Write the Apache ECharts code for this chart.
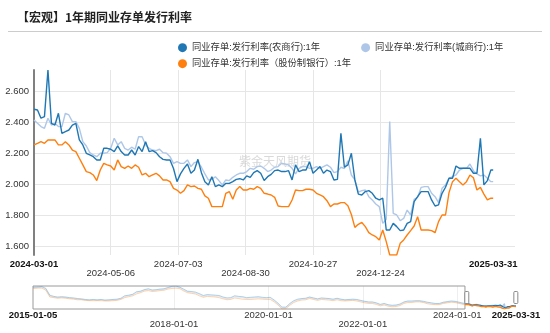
<!DOCTYPE html>
<html>
<head>
<meta charset="utf-8">
<script src="https://cdn.jsdelivr.net/npm/echarts@6/dist/echarts.min.js"></script>
<style>
  html, body { margin: 0; padding: 0; background: #fff; }
  #chart { width: 550px; height: 333px; }
</style>
</head>
<body>
<div id="chart"></div>
<script>
// ---- series names and colours ----
const seriesNames = [
  '同业存单:发行利率(农商行):1年',
  '同业存单:发行利率(城商行):1年',
  '同业存单:发行利率（股份制银行）:1年'
];
const seriesColors = ['#1f77b4', '#aec7e8', '#ff7f0e'];

// ---- monthly history, 2015-01 .. 2024-02 (%) ----
const histStart = '2015-01-05';
const ruralHist = [
  5.10, 5.15, 5.20, 4.90, 3.80, 3.60, 3.50, 3.55, 3.50, 3.40, 3.35, 3.25,
  3.20, 3.10, 3.05, 3.10, 3.05, 3.10, 3.00, 3.05, 3.10, 3.15, 3.30, 3.70,
  3.80, 3.95, 4.35, 4.45, 4.70, 4.85, 4.65, 4.70, 4.80, 4.85, 5.05, 5.25,
  5.30, 5.10, 4.80, 4.45, 4.40, 4.30, 4.05, 3.75, 3.90, 3.85, 3.80, 3.75,
  3.50, 3.35, 3.40, 3.70, 3.60, 3.55, 3.40, 3.45, 3.50, 3.55, 3.45, 3.40,
  3.45, 3.00, 2.50, 1.85, 1.85, 2.45, 2.90, 3.15, 3.25, 3.30, 3.50, 3.35,
  3.20, 3.35, 3.30, 3.25, 3.15, 3.30, 3.15, 3.05, 3.10, 3.15, 3.10, 2.95,
  2.80, 2.70, 2.70, 2.55, 2.30, 2.45, 2.25, 2.15, 2.20, 2.35, 2.70, 2.85,
  2.85, 2.90, 2.90, 2.80, 2.65, 2.55, 2.45, 2.45, 2.65, 2.75, 2.85, 2.80,
  2.65, 2.50
];
const cityHist = [
  5.00, 5.05, 5.10, 4.75, 3.65, 3.50, 3.40, 3.45, 3.40, 3.30, 3.25, 3.15,
  3.10, 3.00, 2.95, 3.00, 2.95, 3.00, 2.95, 2.95, 3.00, 3.05, 3.20, 3.55,
  3.70, 3.85, 4.20, 4.35, 4.60, 4.70, 4.55, 4.60, 4.70, 4.75, 4.95, 5.10,
  5.15, 5.00, 4.65, 4.35, 4.25, 4.15, 3.90, 3.60, 3.75, 3.70, 3.65, 3.60,
  3.35, 3.20, 3.25, 3.55, 3.45, 3.40, 3.25, 3.30, 3.35, 3.40, 3.30, 3.25,
  3.30, 2.85, 2.35, 1.70, 1.75, 2.30, 2.75, 3.00, 3.15, 3.20, 3.40, 3.25,
  3.10, 3.25, 3.20, 3.15, 3.05, 3.20, 3.05, 2.95, 3.00, 3.05, 3.00, 2.85,
  2.70, 2.60, 2.60, 2.45, 2.20, 2.35, 2.15, 2.05, 2.10, 2.25, 2.60, 2.75,
  2.75, 2.80, 2.80, 2.70, 2.55, 2.45, 2.35, 2.35, 2.55, 2.65, 2.75, 2.70,
  2.55, 2.40
];
const jointHist = [
  4.90, 4.95, 4.95, 4.60, 3.50, 3.40, 3.30, 3.35, 3.30, 3.20, 3.15, 3.05,
  3.05, 2.95, 2.90, 2.90, 2.90, 2.90, 2.85, 2.85, 2.90, 2.95, 3.10, 3.40,
  3.55, 3.70, 4.00, 4.20, 4.45, 4.55, 4.40, 4.45, 4.55, 4.60, 4.80, 4.90,
  4.95, 4.85, 4.50, 4.20, 4.10, 4.00, 3.70, 3.45, 3.60, 3.55, 3.50, 3.40,
  3.20, 3.05, 3.10, 3.35, 3.25, 3.15, 3.10, 3.10, 3.15, 3.20, 3.15, 3.10,
  3.10, 2.70, 2.20, 1.55, 1.60, 2.15, 2.60, 2.85, 3.00, 3.05, 3.25, 3.10,
  2.95, 3.10, 3.05, 3.00, 2.90, 3.05, 2.90, 2.85, 2.90, 2.95, 2.85, 2.70,
  2.55, 2.45, 2.45, 2.30, 2.05, 2.20, 2.00, 1.90, 1.95, 2.10, 2.45, 2.60,
  2.60, 2.70, 2.70, 2.60, 2.40, 2.30, 2.25, 2.25, 2.45, 2.55, 2.65, 2.60,
  2.45, 2.30
];

// ---- recent window, every 3 days from 2024-03-01, closing on 2025-03-31 (%) ----
const windowStart = '2024-03-01';
const windowEnd = '2025-03-31';
const ruralRecent = [
  2.482, 2.477, 2.424, 2.434, 2.735, 2.391, 2.380, 2.456, 2.327, 2.338,
  2.348, 2.380, 2.391, 2.284, 2.252, 2.198, 2.187, 2.176, 2.155, 2.155,
  2.230, 2.230, 2.224, 2.209, 2.245, 2.209, 2.187, 2.187, 2.219, 2.187,
  2.241, 2.209, 2.273, 2.209, 2.215, 2.202, 2.176, 2.159, 2.155, 2.155,
  2.100, 2.015, 2.065, 2.101, 2.129, 2.069, 2.090, 2.159, 2.073, 2.015,
  1.994, 2.047, 1.983, 1.994, 1.983, 2.004, 2.004, 2.015, 2.030, 2.034,
  2.026, 2.052, 2.043, 2.073, 2.086, 2.069, 2.022, 2.047, 2.062, 2.086,
  2.090, 2.080, 2.080, 2.086, 2.026, 2.123, 2.080, 2.090, 2.090, 2.144,
  2.069, 2.090, 2.112, 2.069, 2.090, 2.080, 2.026, 2.030, 2.327, 2.108,
  2.123, 2.198, 2.026, 1.935, 1.929, 1.951, 1.957, 1.940, 1.908, 1.897,
  1.908, 1.703, 1.703, 1.746, 1.725, 1.699, 1.703, 1.746, 1.757, 1.886,
  1.918, 1.951, 1.951, 1.951, 1.897, 1.858, 1.865, 1.940, 1.979, 2.037,
  2.037, 2.116, 2.101, 2.101, 2.101, 2.101, 2.069, 2.069, 2.295, 1.994,
  2.022, 2.090, 2.090
];
const cityRecent = [
  2.413, 2.391, 2.370, 2.359, 2.424, 2.380, 2.391, 2.370, 2.370, 2.456,
  2.445, 2.402, 2.402, 2.359, 2.273, 2.245, 2.202, 2.187, 2.176, 2.198,
  2.198, 2.202, 2.230, 2.295, 2.252, 2.273, 2.230, 2.219, 2.237, 2.224,
  2.305, 2.305, 2.252, 2.230, 2.219, 2.215, 2.224, 2.202, 2.198, 2.176,
  2.133, 2.144, 2.133, 2.133, 2.155, 2.112, 2.138, 2.144, 2.108, 2.065,
  2.026, 2.030, 2.047, 2.022, 1.994, 2.026, 2.022, 2.043, 2.058, 2.069,
  2.069, 2.080, 2.101, 2.095, 2.112, 2.116, 2.101, 2.080, 2.090, 2.108,
  2.112, 2.133, 2.129, 2.123, 2.101, 2.065, 2.101, 2.112, 2.112, 2.101,
  2.101, 2.112, 2.101, 2.112, 2.123, 2.108, 2.073, 2.080, 2.108, 2.100,
  2.150, 2.058, 2.026, 1.948, 1.957, 1.961, 1.918, 1.897, 1.871, 1.854,
  1.746, 1.772, 2.402, 1.811, 1.800, 1.763, 1.778, 1.832, 1.800, 1.901,
  1.914, 1.978, 1.983, 1.983, 1.940, 1.918, 1.880, 1.972, 1.994, 2.037,
  2.047, 2.058, 2.090, 2.101, 2.101, 2.129, 2.086, 2.065, 2.052, 2.058,
  2.037, 2.015, 2.015
];
const jointRecent = [
  2.252, 2.262, 2.273, 2.262, 2.284, 2.284, 2.284, 2.252, 2.252, 2.273,
  2.252, 2.219, 2.209, 2.166, 2.123, 2.080, 2.073, 2.058, 2.022, 2.090,
  2.133, 2.123, 2.116, 2.090, 2.155, 2.112, 2.101, 2.116, 2.101, 2.123,
  2.108, 2.058, 2.069, 2.047, 2.058, 2.069, 2.052, 2.026, 2.026, 2.015,
  1.972, 1.961, 1.940, 1.957, 1.994, 1.983, 1.987, 1.972, 1.966, 1.923,
  1.908, 1.854, 1.854, 1.854, 1.854, 1.940, 1.951, 1.901, 1.961, 1.983,
  1.961, 1.961, 1.972, 1.966, 1.983, 1.972, 1.940, 1.935, 1.929, 1.914,
  1.858, 1.854, 1.854, 1.854, 1.897, 1.961, 1.957, 1.957, 1.966, 1.966,
  1.961, 1.940, 1.929, 1.918, 1.892, 1.854, 1.871, 1.871, 1.880, 1.880,
  1.860, 1.803, 1.720, 1.740, 1.752, 1.725, 1.686, 1.671, 1.660, 1.639,
  1.703, 1.628, 1.542, 1.542, 1.542, 1.617, 1.639, 1.671, 1.699, 1.729,
  1.789, 1.703, 1.703, 1.703, 1.699, 1.686, 1.757, 1.800, 1.800, 1.944,
  2.015, 2.037, 2.015, 1.994, 2.015, 2.058, 2.040, 1.961, 1.978, 1.935,
  1.897, 1.908, 1.908
];

// ---- axis label dates ----
const mainTickDates = ['2024-03-01', '2024-05-06', '2024-07-03', '2024-08-30', '2024-10-27', '2024-12-24', '2025-03-31'];
const overviewTickDates = ['2015-01-05', '2018-01-01', '2020-01-01', '2022-01-01', '2024-01-01', '2025-03-31'];

// ---- helpers ----
function toTime(s) {
  const p = s.split('-').map(Number);
  return new Date(p[0], p[1] - 1, p[2]).getTime();
}
function fmtDate(t) {
  const d = new Date(t);
  return d.getFullYear() + '-' + String(d.getMonth() + 1).padStart(2, '0') + '-' + String(d.getDate()).padStart(2, '0');
}
const histDates = ruralHist.map((_, i) => i === 0 ? histStart : fmtDate(new Date(2015, i, 15)));
const recentDates = ruralRecent.map((_, i) =>
  i === ruralRecent.length - 1 ? windowEnd : fmtDate(new Date(2024, 2, 1 + 3 * i)));
const allDates = histDates.concat(recentDates);
const fullValues = [ruralHist.concat(ruralRecent), cityHist.concat(cityRecent), jointHist.concat(jointRecent)];
const recentValues = [ruralRecent, cityRecent, jointRecent];
const pairUp = (dates, vals) => dates.map((d, i) => [toTime(d), vals[i]]);

const FONT = '"Liberation Sans", "Noto Sans CJK SC", sans-serif';
const labelRich = {
  n: { fontSize: 9.5, color: '#333', lineHeight: 12, fontFamily: FONT },
  l: { fontSize: 9.5, color: '#333', lineHeight: 30, fontFamily: FONT },
  e: { fontSize: 9.5, color: '#111', fontWeight: 'bold', lineHeight: 12, fontFamily: FONT }
};
function dateLabel(list) {
  return function (v) {
    const s = fmtDate(v);
    const i = list.indexOf(s);
    if (i < 0) return '';
    if (i === 0 || i === list.length - 1) return '{e|' + s + '}';
    return (i % 2 ? '{l|' : '{n|') + s + '}';
  };
}

// draw the light-blue line underneath the other two
const drawOrder = [1, 0, 2];

const mainSeries = drawOrder.map(k => ({
  name: seriesNames[k],
  type: 'line',
  xAxisIndex: 0,
  yAxisIndex: 0,
  data: pairUp(allDates, fullValues[k]),
  symbol: 'none',
  showSymbol: false,
  lineStyle: { width: 1.4, color: seriesColors[k] },
  itemStyle: { color: seriesColors[k] },
  z: 3
}));

const overviewFaded = drawOrder.map((k, j) => ({
  name: 'overview-' + k,
  type: 'line',
  xAxisIndex: 1,
  yAxisIndex: 1,
  data: pairUp(allDates, fullValues[k]),
  symbol: 'none',
  silent: true,
  lineStyle: { width: 1, color: seriesColors[k], opacity: 0.35 },
  markArea: j === 0 ? {
    silent: true,
    itemStyle: { color: 'rgba(0,0,0,0)', borderColor: '#9a9a9a', borderWidth: 1 },
    data: [[{ xAxis: toTime(histStart) }, { xAxis: toTime(windowStart) }]]
  } : undefined
}));

const overviewActive = drawOrder.map(k => ({
  name: 'overview-active-' + k,
  type: 'line',
  xAxisIndex: 1,
  yAxisIndex: 1,
  data: pairUp(recentDates, recentValues[k]),
  symbol: 'none',
  silent: true,
  lineStyle: { width: 1.2, color: seriesColors[k] }
}));

const chart = echarts.init(document.getElementById('chart'), null, { renderer: 'canvas' });

chart.setOption({
  animation: false,
  textStyle: { fontFamily: FONT },
  legend: [
    {
      data: [seriesNames[0], seriesNames[1]],
      left: 173, top: 38,
      icon: 'circle', itemWidth: 9, itemHeight: 9, itemGap: 41,
      textStyle: { fontSize: 9.3, color: '#333', fontFamily: FONT },
      selectedMode: false
    },
    {
      data: [seriesNames[2]],
      left: 173, top: 54,
      icon: 'circle', itemWidth: 9, itemHeight: 9,
      textStyle: { fontSize: 9.3, color: '#333', fontFamily: FONT },
      selectedMode: false
    }
  ],
  grid: [
    { left: 34, right: 35, top: 70, bottom: 78 },
    { left: 33, right: 34, top: 286, height: 23 }
  ],
  xAxis: [
    {
      type: 'value',
      gridIndex: 0,
      scale: true,
      axisLine: { show: false },
      axisTick: { show: false, customValues: mainTickDates.slice(1, -1).map(toTime) },
      splitLine: { show: true, lineStyle: { color: '#e6e6e6', width: 1 } },
      axisLabel: {
        customValues: mainTickDates.map(toTime),
        formatter: dateLabel(mainTickDates),
        rich: labelRich,
        margin: 3,
        hideOverlap: false
      }
    },
    {
      type: 'value',
      gridIndex: 1,
      min: 'dataMin',
      max: 'dataMax',
      axisLine: { show: false },
      axisTick: { show: false, customValues: overviewTickDates.slice(1, -1).map(toTime) },
      splitLine: { show: true, lineStyle: { color: '#eeeeee', width: 1 } },
      axisLabel: {
        customValues: overviewTickDates.map(toTime),
        formatter: dateLabel(overviewTickDates),
        rich: labelRich,
        margin: 0,
        hideOverlap: false
      }
    }
  ],
  yAxis: [
    {
      type: 'value',
      gridIndex: 0,
      min: 'dataMin',
      max: 'dataMax',
      minInterval: 0.2,
      maxInterval: 0.2,
      axisLine: { show: true, lineStyle: { color: '#808080', width: 2 } },
      axisTick: { show: false },
      axisLabel: {
        formatter: v => v.toFixed(3),
        fontSize: 9.5, color: '#333', margin: 5,
        showMinLabel: false, showMaxLabel: false
      },
      splitLine: { show: true, lineStyle: { color: '#e6e6e6', width: 1 }, showMinLine: false, showMaxLine: false }
    },
    {
      type: 'value',
      gridIndex: 1,
      min: 'dataMin',
      max: 'dataMax',
      show: false,
      splitLine: { show: false }
    }
  ],
  dataZoom: [{
    type: 'slider',
    xAxisIndex: 0,
    filterMode: 'filter',
    startValue: toTime(windowStart),
    endValue: toTime(windowEnd),
    left: 33, right: 34, top: 286, height: 23,
    showDataShadow: false,
    showDetail: false,
    brushSelect: false,
    moveHandleSize: 0,
    backgroundColor: 'rgba(0,0,0,0)',
    borderColor: 'rgba(0,0,0,0)',
    fillerColor: 'rgba(0,0,0,0)',
    handleIcon: 'path://M1,0H3A1,1,0,0,1,4,1V11A1,1,0,0,1,3,12H1A1,1,0,0,1,0,11V1A1,1,0,0,1,1,0Z',
    handleSize: 12,
    handleStyle: { color: '#fff', borderColor: '#8a8a8a', borderWidth: 1 },
    emphasis: { handleStyle: { color: '#fff', borderColor: '#8a8a8a' } },
    textStyle: { color: 'rgba(0,0,0,0)' }
  }],
  graphic: [
    {
      type: 'text', left: 17, top: 11,
      style: { text: '【宏观】1年期同业存单发行利率', font: 'bold 12px "Noto Sans CJK SC"', fill: '#222' }
    },
    {
      type: 'line',
      shape: { x1: 8, y1: 31.5, x2: 542, y2: 31.5 },
      style: { stroke: '#cccccc', lineWidth: 1 }
    },
    {
      type: 'text', left: 'center', top: 155, z: 1,
      style: { text: '紫金天风期货', font: '12px "Noto Sans CJK SC"', fill: 'rgba(170,170,170,0.45)' }
    }
  ],
  series: mainSeries.concat(overviewFaded, overviewActive)
});
</script>
</body>
</html>
